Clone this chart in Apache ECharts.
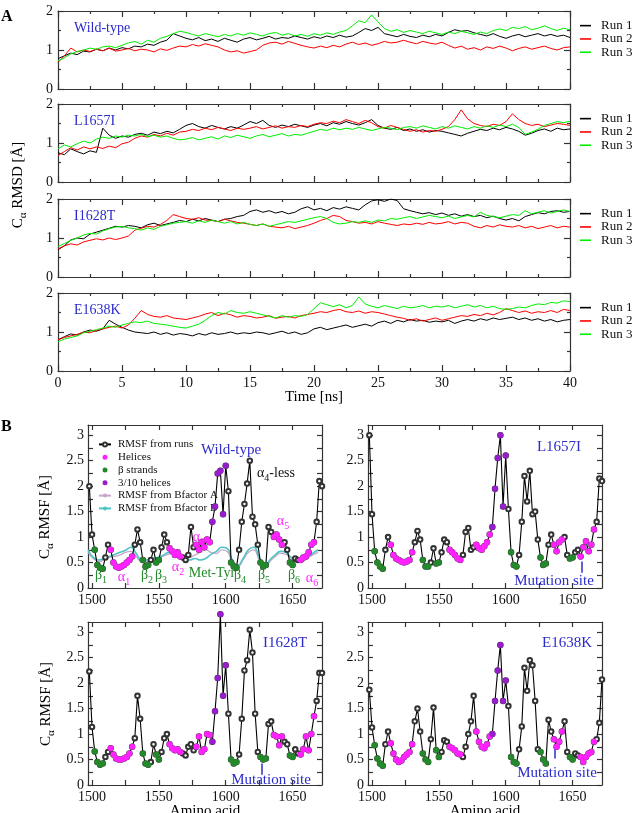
<!DOCTYPE html>
<html>
<head>
<meta charset="utf-8">
<script src="https://cdn.jsdelivr.net/npm/echarts@6/dist/echarts.min.js"></script>
<style>
  html, body { margin: 0; padding: 0; background: #fff; }
  #chart { width: 636px; height: 813px; }
</style>
</head>
<body>
<div id="chart"></div>
<script>
// ---- Panel A: C-alpha RMSD vs time, sampled every 0.5 ns (0..40 ns) ----
const timeNs = [];
for (let i = 0; i <= 80; i++) timeNs.push(i / 2);

const wtRun1 = [0.78,0.85,0.92,0.88,0.97,0.95,1.02,0.98,1.05,1.0,
  1.06,1.03,1.1,1.08,1.15,1.12,1.2,1.25,1.42,1.36,
  1.3,1.26,1.32,1.24,1.28,1.22,1.3,1.25,1.2,1.28,
  1.32,1.26,1.3,1.35,1.28,1.32,1.3,1.36,1.32,1.28,
  1.34,1.3,1.36,1.32,1.38,1.33,1.36,1.45,1.55,1.5,
  1.58,1.42,1.38,1.34,1.4,1.35,1.32,1.38,1.34,1.4,
  1.36,1.45,1.52,1.48,1.5,1.44,1.4,1.36,1.42,1.35,
  1.3,1.36,1.4,1.34,1.38,1.42,1.36,1.4,1.35,1.38,1.32];
const wtRun2 = [0.68,0.85,1.05,0.95,1.0,0.96,1.02,0.98,1.05,0.97,
  1.0,1.04,0.98,1.02,1.0,0.95,1.03,0.99,1.05,1.1,
  1.08,1.14,1.1,1.16,1.12,1.08,1.0,0.95,0.98,0.92,
  0.96,1.0,1.12,1.18,1.2,1.15,1.22,1.17,1.12,1.08,
  1.05,1.1,1.06,1.12,1.08,1.15,1.2,1.14,1.18,1.12,
  1.16,1.22,1.18,1.2,1.25,1.2,1.16,1.22,1.18,1.15,
  1.2,1.12,1.05,1.1,1.02,1.06,1.0,1.08,1.04,1.1,
  1.05,0.98,1.04,1.08,1.02,1.06,1.1,1.04,1.0,1.06,1.08];
const wtRun3 = [0.72,0.8,0.9,0.96,1.0,1.05,1.02,1.08,1.1,1.06,
  1.12,1.18,1.22,1.15,1.25,1.2,1.3,1.35,1.42,1.48,
  1.45,1.4,1.36,1.42,1.38,1.34,1.4,1.36,1.42,1.38,
  1.44,1.4,1.36,1.42,1.45,1.38,1.42,1.36,1.4,1.35,
  1.42,1.38,1.44,1.4,1.46,1.5,1.62,1.75,1.7,1.9,
  1.72,1.55,1.48,1.52,1.45,1.5,1.46,1.42,1.48,1.44,
  1.4,1.46,1.42,1.48,1.44,1.4,1.46,1.42,1.5,1.54,
  1.5,1.58,1.55,1.6,1.52,1.56,1.62,1.55,1.5,1.56,1.52];

const l1657iRun1 = [0.75,0.7,0.85,0.78,0.72,0.8,0.76,1.38,1.2,1.12,
  1.18,1.15,1.22,1.25,1.2,1.28,1.24,1.3,1.26,1.35,
  1.45,1.5,1.42,1.38,1.45,1.4,1.36,1.42,1.38,1.46,
  1.55,1.5,1.58,1.45,1.4,1.46,1.42,1.48,1.44,1.4,
  1.46,1.5,1.44,1.52,1.48,1.55,1.5,1.46,1.52,1.6,
  1.45,1.38,1.35,1.4,1.32,1.36,1.3,1.34,1.28,1.32,
  1.3,1.26,1.22,1.18,1.25,1.3,1.35,1.32,1.38,1.34,
  1.4,1.36,1.3,1.2,1.25,1.32,1.36,1.3,1.38,1.34,1.36];
const l1657iRun2 = [0.68,0.78,0.88,0.82,0.9,0.85,0.9,0.86,0.92,0.88,
  0.98,1.02,1.12,1.18,1.15,1.22,1.18,1.25,1.2,1.28,
  1.3,1.35,1.32,1.38,1.34,1.4,1.36,1.32,1.38,1.35,
  1.38,1.42,1.36,1.4,1.44,1.38,1.42,1.4,1.45,1.42,
  1.48,1.52,1.5,1.56,1.52,1.6,1.55,1.5,1.58,1.52,
  1.42,1.38,1.45,1.4,1.35,1.3,1.34,1.28,1.32,1.3,
  1.35,1.42,1.6,1.85,1.62,1.5,1.45,1.42,1.48,1.45,
  1.55,1.75,1.6,1.5,1.45,1.48,1.42,1.46,1.5,1.48,1.45];
const l1657iRun3 = [0.85,0.95,0.9,0.98,1.05,1.0,1.1,1.15,1.12,1.18,
  1.15,1.2,1.18,1.22,1.16,1.2,1.15,1.18,1.12,1.08,
  1.1,1.14,1.08,1.12,1.16,1.1,1.18,1.14,1.2,1.16,
  1.12,1.18,1.22,1.16,1.2,1.24,1.18,1.22,1.2,1.25,
  1.3,1.35,1.32,1.38,1.34,1.38,1.35,1.4,1.36,1.32,
  1.36,1.4,1.38,1.34,1.4,1.42,1.38,1.44,1.4,1.36,
  1.42,1.38,1.44,1.4,1.36,1.42,1.38,1.44,1.4,1.46,
  1.42,1.48,1.4,1.22,1.28,1.35,1.45,1.5,1.55,1.52,1.56];

const i1628tRun1 = [0.7,0.8,0.95,1.0,0.98,1.1,1.15,1.2,1.25,1.3,
  1.28,1.32,1.3,1.26,1.34,1.38,1.32,1.36,1.4,1.45,
  1.42,1.48,1.44,1.5,1.46,1.42,1.48,1.5,1.55,1.58,
  1.68,1.72,1.66,1.7,1.64,1.68,1.62,1.66,1.75,1.8,
  1.72,1.76,1.7,1.78,1.74,1.8,1.76,1.72,1.85,1.95,
  1.98,1.94,2.0,1.96,1.75,1.7,1.66,1.62,1.65,1.6,
  1.64,1.58,1.62,1.56,1.6,1.55,1.58,1.52,1.56,1.5,
  1.46,1.5,1.44,1.55,1.6,1.65,1.62,1.68,1.7,1.66,1.68];
const i1628tRun2 = [0.72,0.8,0.85,0.82,0.9,0.94,0.98,0.95,1.0,0.96,
  1.0,1.05,1.2,1.25,1.3,1.28,1.35,1.45,1.6,1.55,
  1.5,1.48,1.52,1.46,1.45,1.42,1.48,1.44,1.4,1.38,
  1.35,1.32,1.36,1.3,1.28,1.26,1.3,1.24,1.28,1.32,
  1.38,1.45,1.5,1.58,1.55,1.45,1.42,1.38,1.4,1.36,
  1.42,1.38,1.35,1.32,1.36,1.34,1.38,1.35,1.4,1.36,
  1.38,1.42,1.36,1.4,1.38,1.3,1.26,1.32,1.28,1.34,
  1.3,1.28,1.32,1.26,1.3,1.24,1.28,1.32,1.26,1.3,1.28];
const i1628tRun3 = [0.78,0.86,0.94,1.0,1.08,1.12,1.1,1.18,1.24,1.28,
  1.3,1.26,1.24,1.2,1.26,1.22,1.3,1.34,1.38,1.4,
  1.42,1.38,1.44,1.4,1.46,1.42,1.38,1.42,1.36,1.4,
  1.35,1.32,1.36,1.3,1.34,1.38,1.42,1.4,1.44,1.48,
  1.52,1.55,1.5,1.4,1.36,1.38,1.42,1.4,1.44,1.4,
  1.46,1.44,1.5,1.48,1.52,1.55,1.5,1.54,1.58,1.55,
  1.52,1.56,1.5,1.54,1.58,1.54,1.66,1.58,1.55,1.52,
  1.56,1.6,1.58,1.7,1.62,1.66,1.7,1.64,1.68,1.72,1.68];

const e1638kRun1 = [0.8,0.88,0.95,0.92,1.0,1.05,1.02,1.08,1.3,1.2,
  1.12,1.05,1.0,0.98,0.96,1.0,0.94,0.98,0.92,0.96,
  0.94,0.9,0.96,0.92,0.98,0.94,0.96,1.0,0.95,0.98,
  0.96,1.0,0.98,0.94,0.98,1.02,0.96,1.0,0.94,0.98,
  1.08,1.12,1.06,1.1,1.14,1.18,1.12,1.16,1.2,1.15,
  1.24,1.28,1.22,1.3,1.26,1.32,1.28,1.3,1.25,1.28,
  1.26,1.3,1.22,1.28,1.32,1.28,1.34,1.3,1.36,1.32,
  1.35,1.38,1.32,1.36,1.3,1.34,1.28,1.32,1.26,1.3,1.32];
const e1638kRun2 = [0.8,0.86,0.9,0.94,1.0,0.98,1.04,1.08,1.12,1.15,
  1.1,1.18,1.35,1.55,1.45,1.4,1.38,1.42,1.36,1.34,
  1.32,1.36,1.4,1.46,1.5,1.42,1.48,1.44,1.38,1.42,
  1.4,1.36,1.38,1.42,1.35,1.38,1.4,1.36,1.42,1.45,
  1.48,1.52,1.5,1.55,1.58,1.52,1.5,1.54,1.48,1.52,
  1.5,1.46,1.42,1.38,1.35,1.3,1.34,1.28,1.32,1.36,
  1.3,1.34,1.38,1.42,1.4,1.45,1.42,1.48,1.44,1.5,
  1.6,1.55,1.5,1.54,1.48,1.52,1.5,1.55,1.5,1.58,1.55];
const e1638kRun3 = [0.75,0.82,0.86,0.9,0.98,1.02,1.06,1.1,1.15,1.12,
  1.18,1.22,1.26,1.24,1.28,1.22,1.2,1.18,1.15,1.12,
  1.1,1.15,1.2,1.3,1.42,1.5,1.46,1.55,1.5,1.48,
  1.52,1.48,1.44,1.4,1.36,1.42,1.38,1.42,1.4,1.45,
  1.6,1.75,1.7,1.65,1.7,1.62,1.68,1.9,1.72,1.66,
  1.62,1.68,1.64,1.6,1.66,1.62,1.64,1.68,1.62,1.66,
  1.64,1.68,1.62,1.66,1.7,1.64,1.68,1.62,1.66,1.6,
  1.58,1.6,1.64,1.62,1.68,1.72,1.7,1.76,1.74,1.8,1.78];

// ---- Panel B: C-alpha RMSF per residue, every 2nd residue 1498..1672 ----
const residues = [];
for (let r = 1498; r <= 1672; r += 2) residues.push(r);

const rmsfWT = [2.0,1.05,0.75,0.45,0.4,0.38,0.6,0.85,0.75,0.5,
  0.42,0.4,0.42,0.45,0.5,0.55,0.62,0.85,1.15,0.9,
  0.55,0.42,0.45,0.55,0.75,0.5,0.55,0.8,1.05,0.9,
  0.78,0.72,0.65,0.7,0.62,0.6,0.55,0.65,1.2,0.8,
  0.85,0.75,0.9,0.8,0.95,0.9,1.3,1.6,2.25,2.3,
  1.45,2.4,1.9,0.5,0.42,0.4,0.75,1.3,1.65,2.05,
  2.5,1.4,1.25,0.85,0.5,0.42,0.45,1.2,1.1,1.0,
  1.05,0.95,0.85,0.9,0.75,0.5,0.45,0.58,0.55,0.55,
  0.6,0.62,0.7,0.85,0.9,1.3,2.1,2.0];
const rmsfL1657I = [3.0,1.45,0.72,0.5,0.42,0.38,0.75,1.0,0.85,0.65,
  0.58,0.55,0.52,0.5,0.52,0.55,0.7,0.9,1.12,0.95,
  0.55,0.42,0.42,0.5,0.78,0.48,0.5,0.7,0.95,0.9,
  0.75,0.7,0.65,0.58,0.55,0.65,1.1,1.18,0.75,0.8,
  0.85,0.78,0.75,0.82,0.9,1.05,1.2,1.95,2.55,3.0,
  1.6,2.6,1.55,0.7,0.45,0.42,0.65,1.3,2.2,1.7,
  2.3,1.45,1.5,0.95,0.6,0.45,0.48,0.85,1.05,0.85,
  0.72,0.9,0.95,1.0,0.65,0.58,0.6,0.7,0.75,0.62,
  0.8,0.92,0.72,0.85,1.15,1.3,2.15,2.1];
const rmsfI1628T = [2.23,1.14,0.66,0.45,0.4,0.42,0.55,0.65,0.72,0.6,
  0.52,0.5,0.5,0.52,0.55,0.62,0.75,0.92,1.75,1.3,
  0.62,0.42,0.4,0.45,0.8,0.6,0.5,0.65,0.92,1.0,
  0.8,0.72,0.68,0.7,0.65,0.62,0.58,0.75,0.8,0.68,
  0.75,0.95,0.65,0.7,1.0,0.98,0.85,1.45,2.1,3.35,
  1.75,2.35,1.4,0.5,0.42,0.45,0.6,1.3,2.25,2.45,
  3.05,2.6,1.4,0.65,0.55,0.5,0.52,1.2,1.25,0.98,
  0.95,0.78,0.95,0.85,0.8,0.58,0.55,0.7,0.62,0.6,
  0.7,0.95,0.68,1.0,1.35,1.65,2.2,2.2];
const rmsfE1638K = [1.87,1.13,0.78,0.52,0.42,0.38,0.8,1.05,0.82,0.62,
  0.5,0.45,0.48,0.55,0.6,0.65,0.8,1.25,1.5,1.05,
  0.62,0.5,0.45,0.9,1.52,0.68,0.55,0.65,0.88,0.85,
  0.75,0.72,0.68,0.62,0.6,0.55,0.75,1.0,1.25,1.75,
  1.05,0.85,0.75,0.72,0.8,0.95,1.0,1.65,2.25,2.75,
  1.65,2.05,1.55,0.55,0.45,0.42,0.7,1.15,2.3,1.85,
  2.45,2.35,1.65,0.7,0.65,0.5,0.42,1.28,1.05,0.9,
  0.75,0.85,1.05,1.25,0.65,0.55,0.5,0.62,0.58,0.55,
  0.45,0.55,0.62,0.65,0.85,0.9,1.22,2.07];

// RMSF derived from crystal B-factors (wild-type only), every 4th residue 1497..1669
const bfactorRes = [];
for (let r = 1497; r <= 1669; r += 4) bfactorRes.push(r);
const bfactorA = [0.7,0.58,0.52,0.55,0.6,0.62,0.65,0.7,0.72,0.62,
  0.52,0.52,0.55,0.58,0.62,0.66,0.68,0.62,0.6,0.6,
  0.65,0.7,0.75,0.7,0.68,0.75,0.72,0.5,0.42,0.55,
  0.7,0.75,0.55,0.4,0.52,0.62,0.68,0.66,0.58,0.52,
  0.52,0.58,0.65,0.7];
const bfactorB = [0.75,0.6,0.55,0.58,0.62,0.66,0.7,0.74,0.8,0.68,
  0.55,0.55,0.58,0.6,0.64,0.7,0.72,0.65,0.58,0.55,
  0.58,0.55,0.58,0.66,0.72,0.8,0.78,0.55,0.45,0.58,
  0.75,0.8,0.6,0.42,0.55,0.65,0.72,0.7,0.6,0.55,
  0.55,0.6,0.68,0.75];

// secondary structure (residue ranges)
const strandRanges = [[1501,1508],[1537,1543],[1547,1551],[1604,1608],[1625,1630],[1647,1651]];
const helixRanges = [[1514,1530],[1557,1567],[1577,1589],[1635,1642],[1655,1666]];
const helix310Ranges = [[1590,1600]];

const rmsdTicks = [0, 1, 2];
const rmsfLabelTicks = [0, 0.5, 1, 1.5, 2, 2.5, 3];
const rmsfMinorTicks = [0,0.25,0.5,0.75,1,1.25,1.5,1.75,2,2.25,2.5,2.75,3];
const residueLabelTicks = [1500, 1550, 1600, 1650];
const residueMinorTicks = [1500, 1525, 1550, 1575, 1600, 1625, 1650];

// ---------------------------------------------------------------------
const SERIF = '"Liberation Serif", "DejaVu Serif", serif';
const BLUE = '#2b2bcc';
const MAGENTA = '#ff22ff';
const GREEN = '#23892a';
const PURPLE = '#9a1ccf';
const runColors = ['#000000', '#ff0000', '#00ee00'];
const axisColor = '#333';

const chart = echarts.init(document.getElementById('chart'));

const rmsdPanels = [
  { label: 'Wild-type', runs: [wtRun1, wtRun2, wtRun3], top: 11 },
  { label: 'L1657I', runs: [l1657iRun1, l1657iRun2, l1657iRun3], top: 104 },
  { label: 'I1628T', runs: [i1628tRun1, i1628tRun2, i1628tRun3], top: 199 },
  { label: 'E1638K', runs: [e1638kRun1, e1638kRun2, e1638kRun3], top: 293 }
];
const rmsfPanels = [
  { label: 'Wild-type', values: rmsfWT, left: 88, top: 425, bfactor: true },
  { label: 'L1657I', values: rmsfL1657I, left: 368, top: 425, mutation: 1657, arrow: [0.3, 0.52] },
  { label: 'I1628T', values: rmsfI1628T, left: 88, top: 622, mutation: 1627, arrow: [0.2, 0.42] },
  { label: 'E1638K', values: rmsfE1638K, left: 368, top: 622, mutation: 1637, arrow: [0.52, 0.74] }
];

const grid = [], xAxis = [], yAxis = [], series = [], legend = [], graphic = [];
const lineStyle = { color: axisColor, width: 1.2 };

function tickLabel(size) {
  return { fontFamily: SERIF, fontSize: size, color: '#111', formatter: v => String(v) };
}

rmsdPanels.forEach((p, g) => {
  grid.push({ left: 58, top: p.top, width: 512, height: 78 });
  const last = g === rmsdPanels.length - 1;
  ['bottom', 'top'].forEach(pos => xAxis.push({
    type: 'value', gridIndex: g, position: pos, min: 0, max: 40, interval: 5,
    axisLine: { onZero: false, lineStyle },
    axisTick: { inside: true, length: 6, lineStyle },
    minorTick: { show: true, splitNumber: 2, length: 3, lineStyle },
    axisLabel: Object.assign({ show: pos === 'bottom' && last, margin: 5 }, tickLabel(14)),
    splitLine: { show: false }
  }));
  ['left', 'right'].forEach(pos => yAxis.push({
    type: 'value', gridIndex: g, position: pos, min: 0, max: 2, interval: 1,
    axisLine: { onZero: false, lineStyle },
    axisTick: { inside: true, length: 6, lineStyle },
    minorTick: { show: true, splitNumber: 2, length: 3, lineStyle },
    axisLabel: Object.assign({ show: pos === 'left', margin: 5,
      customValues: rmsdTicks }, tickLabel(14)),
    splitLine: { show: false }
  }));
  p.runs.forEach((vals, r) => series.push({
    type: 'line', name: 'Run ' + (r + 1), xAxisIndex: g * 2, yAxisIndex: g * 2,
    data: vals.map((v, i) => [timeNs[i], v]),
    symbol: 'none', silent: true,
    lineStyle: { color: runColors[r], width: 1 },
    itemStyle: { color: runColors[r] }
  }));
  legend.push({
    data: ['Run 1', 'Run 2', 'Run 3'], orient: 'vertical', left: 575, top: p.top + 3,
    itemGap: 0, icon: 'rect', itemWidth: 11, itemHeight: 1.6, selectedMode: false,
    textStyle: { fontFamily: SERIF, fontSize: 13, color: '#111', lineHeight: 13.3, padding: [0, 0, 0, 5] }
  });
  graphic.push({ type: 'text', x: 74, y: p.top + 17,
    style: { text: p.label, fill: BLUE, font: '14px ' + SERIF, verticalAlign: 'middle' } });
});

const inRanges = (res, ranges) => ranges.some(([a, b]) => res >= a && res <= b);

rmsfPanels.forEach((p, k) => {
  const g = rmsdPanels.length + k;
  grid.push({ left: p.left, top: p.top, width: 234, height: 163 });
  ['bottom', 'top'].forEach(pos => xAxis.push({
    type: 'value', gridIndex: g, position: pos, min: 1497, max: 1672,
    axisLine: { onZero: false, lineStyle },
    axisTick: { inside: true, length: 5, lineStyle, customValues: residueMinorTicks },
    axisLabel: Object.assign({ show: pos === 'bottom', margin: 5,
      customValues: residueLabelTicks }, tickLabel(14)),
    splitLine: { show: false }
  }));
  ['left', 'right'].forEach(pos => yAxis.push({
    type: 'value', gridIndex: g, position: pos, min: 0, max: 3.2,
    axisLine: { onZero: false, lineStyle },
    axisTick: { inside: true, length: 5, lineStyle, customValues: rmsfMinorTicks },
    axisLabel: Object.assign({ show: pos === 'left', margin: 4,
      customValues: rmsfLabelTicks }, tickLabel(14)),
    splitLine: { show: false }
  }));
  const pts = residues.map((r, i) => [r, p.values[i]]);
  const ax = { xAxisIndex: g * 2, yAxisIndex: g * 2 };
  if (p.bfactor) {
    series.push(Object.assign({
      type: 'line', name: 'RMSF from Bfactor A', smooth: true, symbol: 'none', silent: true, z: 2,
      data: bfactorRes.map((r, i) => [r, bfactorA[i]]),
      lineStyle: { color: '#c7a6c9', width: 1.3 }, itemStyle: { color: '#c7a6c9' }
    }, ax));
    series.push(Object.assign({
      type: 'line', name: 'RMSF from Bfactor B', smooth: true, symbol: 'none', silent: true, z: 2,
      data: bfactorRes.map((r, i) => [r, bfactorB[i]]),
      lineStyle: { color: '#4fc4c4', width: 1.6 }, itemStyle: { color: '#4fc4c4' }
    }, ax));
  }
  series.push(Object.assign({
    type: 'line', name: 'RMSF from runs', data: pts, clip: false, silent: true, z: 3,
    symbol: 'emptyCircle', symbolSize: 4.5, showAllSymbol: true,
    lineStyle: { color: '#000', width: 1.1 }, itemStyle: { color: '#333', borderWidth: 1 }
  }, ax));
  const groups = [
    ['Helices', helixRanges, MAGENTA],
    ['β strands', strandRanges, GREEN],
    ['3/10 helices', helix310Ranges, PURPLE]
  ];
  groups.forEach(([name, ranges, color]) => {
    const s = Object.assign({
      type: 'scatter', name, clip: false, silent: true, symbolSize: 6, z: 10, zlevel: 0,
      data: pts.filter(([r]) => inRanges(r, ranges)),
      itemStyle: { color, opacity: 1 }
    }, ax);
    if (p.mutation && name === 'Helices') {
      s.markLine = {
        silent: true, symbol: ['none', 'arrow'], symbolSize: [0, 7],
        lineStyle: { color: BLUE, width: 1.5, type: 'solid' }, label: { show: false },
        data: [[{ coord: [p.mutation, p.arrow[0]] }, { coord: [p.mutation, p.arrow[1]] }]]
      };
    }
    series.push(s);
  });
});

legend.push({
  data: ['RMSF from runs', { name: 'Helices', icon: 'circle' }, { name: 'β strands', icon: 'circle' },
    { name: '3/10 helices', icon: 'circle' }, 'RMSF from Bfactor A', 'RMSF from Bfactor B'],
  orient: 'vertical', left: 93, top: 433, itemGap: 0, itemWidth: 12, itemHeight: 5,
  selectedMode: false,
  textStyle: { fontFamily: SERIF, fontSize: 11, color: '#111', lineHeight: 12.8, padding: [0, 0, 0, 2] }
});

// ---- text annotations ----
function txt(x, y, text, fill, size, extra) {
  graphic.push(Object.assign({ type: 'text', x, y,
    style: { text, fill, font: size + 'px ' + SERIF, align: 'center', verticalAlign: 'middle' } }, extra || {}));
}
function subTxt(x, y, main, sub, rest, fill, size, extra) {
  const text = '{m|' + main + '}{s|' + sub + '}' + (rest ? '{m|' + rest + '}' : '');
  graphic.push(Object.assign({ type: 'text', x, y, style: {
    text, align: 'center', verticalAlign: 'middle',
    rich: {
      m: { fill, fontSize: size, fontFamily: SERIF, lineHeight: size + 6 },
      s: { fill, fontSize: Math.round(size * 0.7), fontFamily: SERIF, lineHeight: Math.round(size * 0.7), verticalAlign: 'bottom' }
    } } }, extra || {}));
}

graphic.push({ type: 'text', x: 1, y: 17, style: { text: 'A', fill: '#000', font: 'bold 16px ' + SERIF, verticalAlign: 'middle' } });
graphic.push({ type: 'text', x: 1, y: 427, style: { text: 'B', fill: '#000', font: 'bold 16px ' + SERIF, verticalAlign: 'middle' } });
subTxt(18, 185, 'C', 'α', ' RMSD [Å]', '#000', 15, { rotation: Math.PI / 2 });
txt(314, 397, 'Time [ns]', '#000', 15);
subTxt(45, 517, 'C', 'α', ' RMSF [Å]', '#000', 15, { rotation: Math.PI / 2 });
subTxt(46, 704, 'C', 'α', ' RMSF [Å]', '#000', 15, { rotation: Math.PI / 2 });
txt(205, 811, 'Amino acid', '#000', 15);
txt(485, 811, 'Amino acid', '#000', 15);

txt(231, 450, 'Wild-type', BLUE, 15);
txt(559, 447, 'L1657I', BLUE, 15);
txt(285, 643, 'I1628T', BLUE, 15);
txt(567, 643, 'E1638K', BLUE, 15);
txt(554, 581, 'Mutation site', BLUE, 15);
txt(271, 780, 'Mutation site', BLUE, 15);
txt(557, 773, 'Mutation site', BLUE, 15);

graphic.push({ type: 'text', x: 257, y: 473, style: {
  text: '{m|α}{s|4}{m|-less}', verticalAlign: 'middle',
  rich: { m: { fill: '#111', fontSize: 14, fontFamily: SERIF, lineHeight: 20 },
          s: { fill: '#111', fontSize: 10, fontFamily: SERIF, lineHeight: 10, verticalAlign: 'bottom' } } } });

subTxt(101, 575, 'β', '1', '', GREEN, 14);
subTxt(124, 577, 'α', '1', '', MAGENTA, 14);
subTxt(147, 575, 'β', '2', '', GREEN, 14);
subTxt(161, 575, 'β', '3', '', GREEN, 14);
subTxt(178, 567, 'α', '2', '', MAGENTA, 14);
txt(212, 573, 'Met-Tyr', GREEN, 14);
subTxt(240, 575, 'β', '4', '', GREEN, 14);
subTxt(264, 575, 'β', '5', '', GREEN, 14);
subTxt(294, 575, 'β', '6', '', GREEN, 14);
subTxt(312, 578, 'α', '6', '', MAGENTA, 14);
subTxt(199, 537, 'α', '3', '', MAGENTA, 14);
subTxt(283, 521, 'α', '5', '', MAGENTA, 14);

chart.setOption({
  animation: false,
  backgroundColor: '#fff',
  grid, xAxis, yAxis, series, legend, graphic
});
</script>
</body>
</html>
